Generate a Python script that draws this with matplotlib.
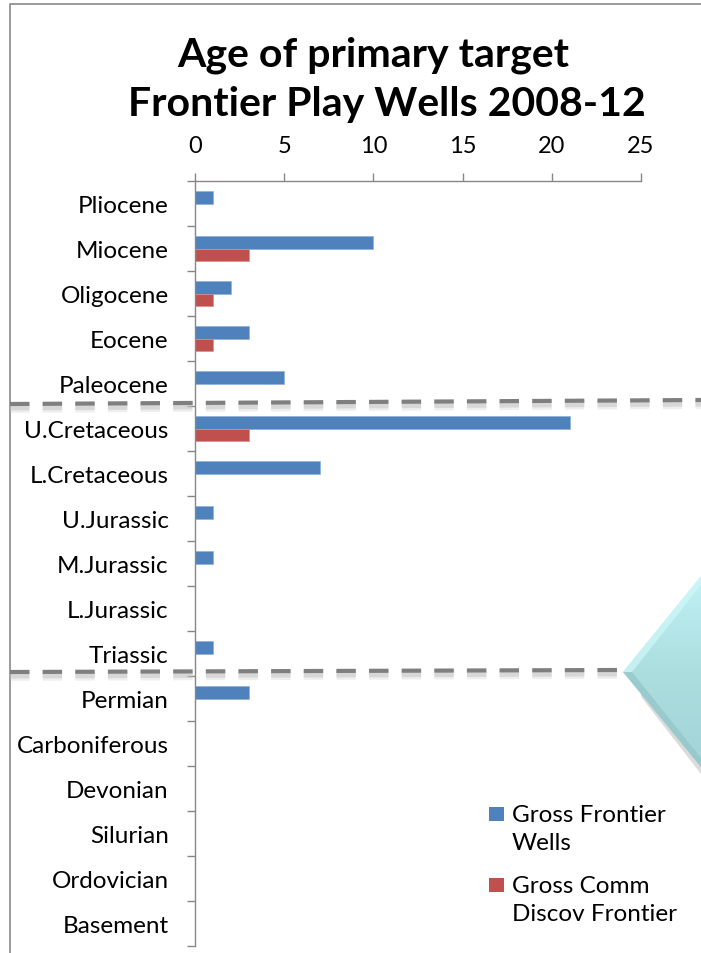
import numpy as np
import matplotlib.pyplot as plt
from matplotlib.lines import Line2D
from matplotlib.patches import Polygon, Rectangle
from matplotlib.colors import LinearSegmentedColormap

plt.rcParams['font.family'] = ['Lato', 'DejaVu Sans']
plt.rcParams['lines.scale_dashes'] = False

# geological ages, youngest first
ages = ['Pliocene', 'Miocene', 'Oligocene', 'Eocene', 'Paleocene',
        'U.Cretaceous', 'L.Cretaceous', 'U.Jurassic', 'M.Jurassic',
        'L.Jurassic', 'Triassic', 'Permian', 'Carboniferous', 'Devonian',
        'Silurian', 'Ordovician', 'Basement']
gross_wells = [1, 10, 2, 3, 5, 21, 7, 1, 1, 0, 1, 3, 0, 0, 0, 0, 0]
comm_discov = [0, 3, 1, 1, 0, 3, 0, 0, 0, 0, 0, 0, 0, 0, 0, 0, 0]
x_ticks = [0, 5, 10, 15, 20, 25]
series_names = ['Gross Frontier\nWells', 'Gross Comm\nDiscov Frontier']

BLUE = '#4f81bd'
RED = '#c0504d'
GREY = '#878787'

W, H = 701, 954
fig = plt.figure(figsize=(W / 100, H / 100), dpi=100)


def fx(px):
    return px / W


def fy(py):
    return 1 - py / H


ax = fig.add_axes([fx(195), fy(947), fx(641) - fx(195), fy(182) - fy(947)])

pos = np.arange(len(ages))
bh = 0.282
ax.barh(pos - bh / 2, gross_wells, height=bh, color=BLUE, edgecolor='#8fb0d8', linewidth=0.5)
ax.barh(pos + bh / 2, comm_discov, height=bh, color=RED, edgecolor='#d88f8d', linewidth=0.5)

ax.set_xlim(0, 25)
ax.set_ylim(len(ages) - 0.5, -0.5)

ax.xaxis.tick_top()
ax.set_xticks(x_ticks)
ax.tick_params(axis='x', which='major', direction='out', length=5.8, width=1,
               color=GREY, pad=12.5, labelsize=17)

ax.set_yticks(pos)
ax.set_yticklabels(ages)
ax.set_yticks(np.arange(-0.5, len(ages)), minor=True)
ax.tick_params(axis='y', which='major', length=0, pad=19, labelsize=17.5)
ax.tick_params(axis='y', which='minor', direction='out', length=5.8, width=1, color=GREY)

for side in ['right', 'bottom']:
    ax.spines[side].set_visible(False)
for side in ['left', 'top']:
    ax.spines[side].set_color(GREY)
    ax.spines[side].set_linewidth(1)

# title, two lines
fig.text(fx(373), fy(66), 'Age of primary target', ha='center', va='baseline',
         fontsize=29.5, fontweight='bold')
fig.text(fx(387), fy(116), 'Frontier Play Wells 2008-12', ha='center', va='baseline',
         fontsize=29.5, fontweight='bold')

# outer frame
fig.add_artist(Line2D([fx(10), fx(10), fx(701)], [fy(954), fy(5), fy(5)],
                      color='#8a8a8a', lw=1.2, transform=fig.transFigure))


def dashed_divider(x0, y0, x1, y1):
    # soft shadow under the dashes
    for off, lw, a in [(4, 7, 0.25), (3, 5, 0.45)]:
        fig.add_artist(Line2D([fx(x0), fx(x1)], [fy(y0 + off), fy(y1 + off)], color='#bdbdbd',
                              lw=lw, alpha=a, dashes=(14, 9.5), transform=fig.transFigure))
    fig.add_artist(Line2D([fx(x0), fx(x1)], [fy(y0), fy(y1)], color='#7f7f7f',
                          lw=3, dashes=(14, 9.5), transform=fig.transFigure))


dashed_divider(10, 405, 701, 401)
dashed_divider(10, 673, 617, 671)

# chevron pointer on the right edge
tip = (623, 673)
top_y, bot_y = 577, 768
fig.add_artist(Polygon([(fx(tip[0] + 2), fy(tip[1] + 4)), (fx(701), fy(top_y + 7)),
                        (fx(701), fy(bot_y + 7))],
                       closed=True, facecolor='#9a9a9a', edgecolor='none', alpha=0.35,
                       zorder=-1, transform=fig.transFigure))
chev_ax = fig.add_axes([fx(tip[0]), fy(bot_y), fx(701) - fx(tip[0]), fy(top_y) - fy(bot_y)])
chev_ax.set_xlim(tip[0], 701)
chev_ax.set_ylim(bot_y, top_y)
chev_ax.axis('off')
teal = LinearSegmentedColormap.from_list('teal', ['#c0f2f5', '#acdee0', '#a3d4d7'])
grad = np.linspace(0, 1, 256).reshape(-1, 1)
img = chev_ax.imshow(grad, cmap=teal, aspect='auto', extent=(tip[0], 701, bot_y, top_y),
                     origin='upper')
clip = Polygon([tip, (701, top_y), (701, bot_y)], closed=True, transform=chev_ax.transData)
img.set_clip_path(clip)
chev_ax.add_patch(Polygon([tip, (701, top_y), (701, top_y + 9), (tip[0] + 9, tip[1])],
                          closed=True, facecolor='#d0f8fa', edgecolor='none', alpha=0.7))
chev_ax.add_patch(Polygon([tip, (701, bot_y), (701, bot_y - 9), (tip[0] + 9, tip[1])],
                          closed=True, facecolor='#93c5c8', edgecolor='none', alpha=0.7))

# legend: square keys aligned with the first line of each label
legend_rows = [(BLUE, 822), (RED, 893)]
line_gap = 28
for (col, base), name in zip(legend_rows, series_names):
    fig.add_artist(Rectangle((fx(489), fy(base)), fx(15) - fx(0), fy(0) - fy(14),
                             facecolor=col, edgecolor='none', transform=fig.transFigure))
    for k, line in enumerate(name.split('\n')):
        fig.text(fx(512), fy(base + k * line_gap), line, ha='left', va='baseline',
                 fontsize=17.5)

fig.savefig('out.png', dpi=100)
